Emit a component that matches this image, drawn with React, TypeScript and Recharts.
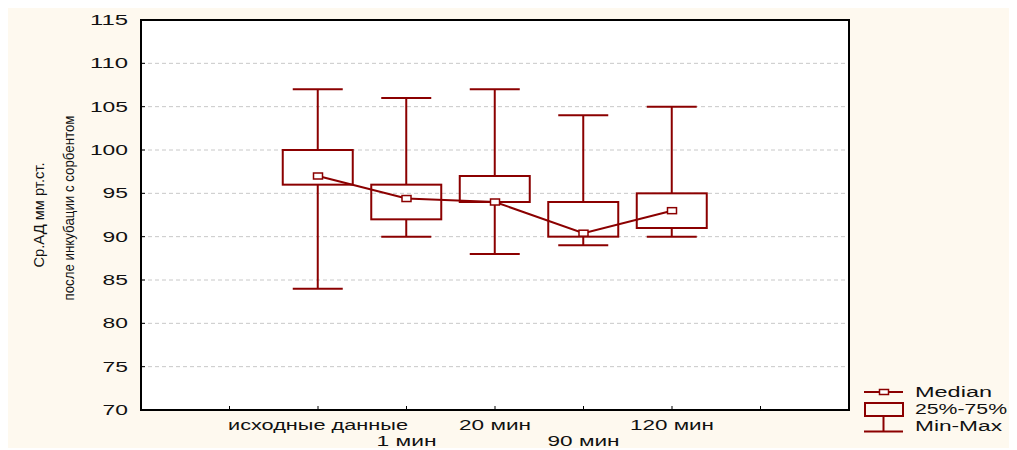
import { ComposedChart, Bar, Line, XAxis, YAxis, CartesianGrid, ReferenceArea } from 'recharts';

const categories = ['исходные данные', '1 мин', '20 мин', '90 мин', '120 мин'];
const minValues = [84, 90, 88, 89, 90];
const q1Values = [96, 92, 94, 90, 91];
const medianValues = [97, 94.4, 94, 90.4, 93];
const q3Values = [100, 96, 97, 94, 95];
const maxValues = [107, 106, 107, 104, 105];

const yTicks = [70, 75, 80, 85, 90, 95, 100, 105, 110, 115];
const xTicks = [-1, 0, 1, 2, 3, 4, 5];
const yTitle = ['Ср.АД мм рт.ст.', 'после инкубации с сорбентом'];
const legendItems = ['Median', '25%-75%', 'Min-Max'];

const data = categories.map((name, i) => ({
  x: i,
  name,
  min: minValues[i],
  q1: q1Values[i],
  median: medianValues[i],
  q3: q3Values[i],
  max: maxValues[i],
  range: [minValues[i], maxValues[i]],
}));

const RED = '#8b0000';
const FONT = '"Liberation Sans", Arial, sans-serif';

// box + whiskers, positions derived from the bar the library places for [min, max]
function BoxShape(props: any) {
  const { x, y, width, height, payload } = props;
  if (!payload || height == null) return null;
  const { min, q1, q3, max } = payload;
  const k = height / (max - min);
  const yOf = (v: number) => y + (max - v) * k;
  const cx = x + width / 2;
  const cap = 25;
  return (
    <g stroke={RED} strokeWidth={2} fill="none">
      <line x1={cx} x2={cx} y1={yOf(max)} y2={yOf(q3)} />
      <line x1={cx} x2={cx} y1={yOf(q1)} y2={yOf(min)} />
      <line x1={cx - cap} x2={cx + cap} y1={yOf(max)} y2={yOf(max)} />
      <line x1={cx - cap} x2={cx + cap} y1={yOf(min)} y2={yOf(min)} />
      <rect x={x} y={yOf(q3)} width={width} height={yOf(q1) - yOf(q3)} />
    </g>
  );
}

function MedianDot(props: any) {
  const { cx, cy } = props;
  if (cx == null || cy == null) return null;
  return <rect x={cx - 4.5} y={cy - 3} width={9} height={6} fill="#fff" stroke={RED} strokeWidth={1.5} />;
}

function BottomTick(props: any) {
  const { x, y, payload } = props;
  const i = payload.value;
  const label = categories[i] ?? '';
  const row2 = i % 2 === 1;
  return (
    <g>
      <line x1={x} x2={x} y1={y} y2={y - 4} stroke="#000" strokeWidth={1} />
      {label && (
        <text
          x={x}
          y={y + (row2 ? 36 : 20)}
          textAnchor="middle"
          fontSize={14}
          fontFamily={FONT}
          fill="#111"
          textLength={label.length * 12}
          lengthAdjust="spacingAndGlyphs"
        >
          {label}
        </text>
      )}
    </g>
  );
}

function TopTick(props: any) {
  const { x, y } = props;
  return <line x1={x} x2={x} y1={y} y2={y + 4} stroke="#000" strokeWidth={1} />;
}

function LeftTick(props: any) {
  const { x, y, payload } = props;
  const label = String(payload.value);
  return (
    <g>
      <line x1={x} x2={x + 4} y1={y} y2={y} stroke="#000" strokeWidth={1} />
      <text
        x={x - 13}
        y={y + 5}
        textAnchor="end"
        fontSize={14}
        fontFamily={FONT}
        fill="#111"
        textLength={label.length * 12.7}
        lengthAdjust="spacingAndGlyphs"
      >
        {label}
      </text>
    </g>
  );
}

function RightTick(props: any) {
  const { x, y } = props;
  return <line x1={x} x2={x - 4} y1={y} y2={y} stroke="#000" strokeWidth={1} />;
}

function YTitle(props: any) {
  const { viewBox } = props;
  const cy = viewBox.y + viewBox.height / 2;
  const x1 = viewBox.x + 31;
  const x2 = viewBox.x + 61;
  return (
    <g fontFamily={FONT} fontSize={14} fill="#111">
      <text
        x={x1}
        y={cy}
        transform={`rotate(-90 ${x1} ${cy})`}
        textAnchor="middle"
        dominantBaseline="central"
        textLength={105}
        lengthAdjust="spacingAndGlyphs"
      >
        {yTitle[0]}
      </text>
      <text
        x={x2}
        y={cy - 7}
        transform={`rotate(-90 ${x2} ${cy - 7})`}
        textAnchor="middle"
        dominantBaseline="central"
        textLength={185}
        lengthAdjust="spacingAndGlyphs"
      >
        {yTitle[1]}
      </text>
    </g>
  );
}

function BoxLegend() {
  const textW = [77, 92, 87];
  return (
    <svg width={160} height={66} style={{ position: 'absolute', left: 852, top: 372 }}>
      <g stroke={RED} strokeWidth={2} fill="none">
        <line x1={4} x2={43} y1={12} y2={12} />
        <rect x={19.5} y={9.5} width={9} height={5} fill="#fff" strokeWidth={1.5} />
        <rect x={5} y={23} width={38} height={13} />
        <line x1={23.5} x2={23.5} y1={36} y2={51} />
        <line x1={4} x2={43} y1={51.5} y2={51.5} />
      </g>
      {legendItems.map((t, i) => (
        <text
          key={t}
          x={55}
          y={17 + i * 17}
          fontSize={14}
          fontFamily={FONT}
          fill="#111"
          textLength={textW[i]}
          lengthAdjust="spacingAndGlyphs"
        >
          {t}
        </text>
      ))}
    </svg>
  );
}

export default function App() {
  return (
    <div style={{ position: 'relative', width: 1005, height: 440, background: '#fef9ef' }}>
      <ComposedChart
        width={1005}
        height={440}
        data={data}
        margin={{ top: 12, right: 164, bottom: 0, left: 0 }}
      >
        <CartesianGrid vertical={false} stroke="#c8c8c8" strokeDasharray="4 3" fill="#ffffff" fillOpacity={1} />
        <XAxis
          dataKey="x"
          type="number"
          domain={[-2, 6]}
          ticks={xTicks}
          height={38}
          tickSize={0}
          tickMargin={0}
          tick={<BottomTick />}
          axisLine={false}
          interval={0}
        />
        <XAxis
          xAxisId="top"
          orientation="top"
          type="number"
          domain={[-2, 6]}
          ticks={xTicks}
          height={0}
          tickSize={0}
          tickMargin={0}
          tick={<TopTick />}
          axisLine={false}
          interval={0}
        />
        <YAxis
          domain={[70, 115]}
          ticks={yTicks}
          width={133}
          tickSize={0}
          tickMargin={0}
          tick={<LeftTick />}
          axisLine={false}
          interval={0}
          allowDataOverflow
          label={{ content: <YTitle /> }}
        />
        <YAxis
          yAxisId="right"
          orientation="right"
          domain={[70, 115]}
          ticks={yTicks}
          width={0}
          tickSize={0}
          tickMargin={0}
          tick={<RightTick />}
          axisLine={false}
          interval={0}
        />
        <ReferenceArea
          x1={-2}
          x2={6}
          y1={70}
          y2={115}
          fill="none"
          fillOpacity={0}
          stroke="#000"
          strokeWidth={2}
          strokeOpacity={1}
          ifOverflow="visible"
        />
        <Bar dataKey="range" barSize={70} shape={<BoxShape />} isAnimationActive={false} />
        <Line
          dataKey="median"
          type="linear"
          stroke={RED}
          strokeWidth={2}
          dot={<MedianDot />}
          activeDot={false}
          isAnimationActive={false}
        />
      </ComposedChart>
      <BoxLegend />
    </div>
  );
}
